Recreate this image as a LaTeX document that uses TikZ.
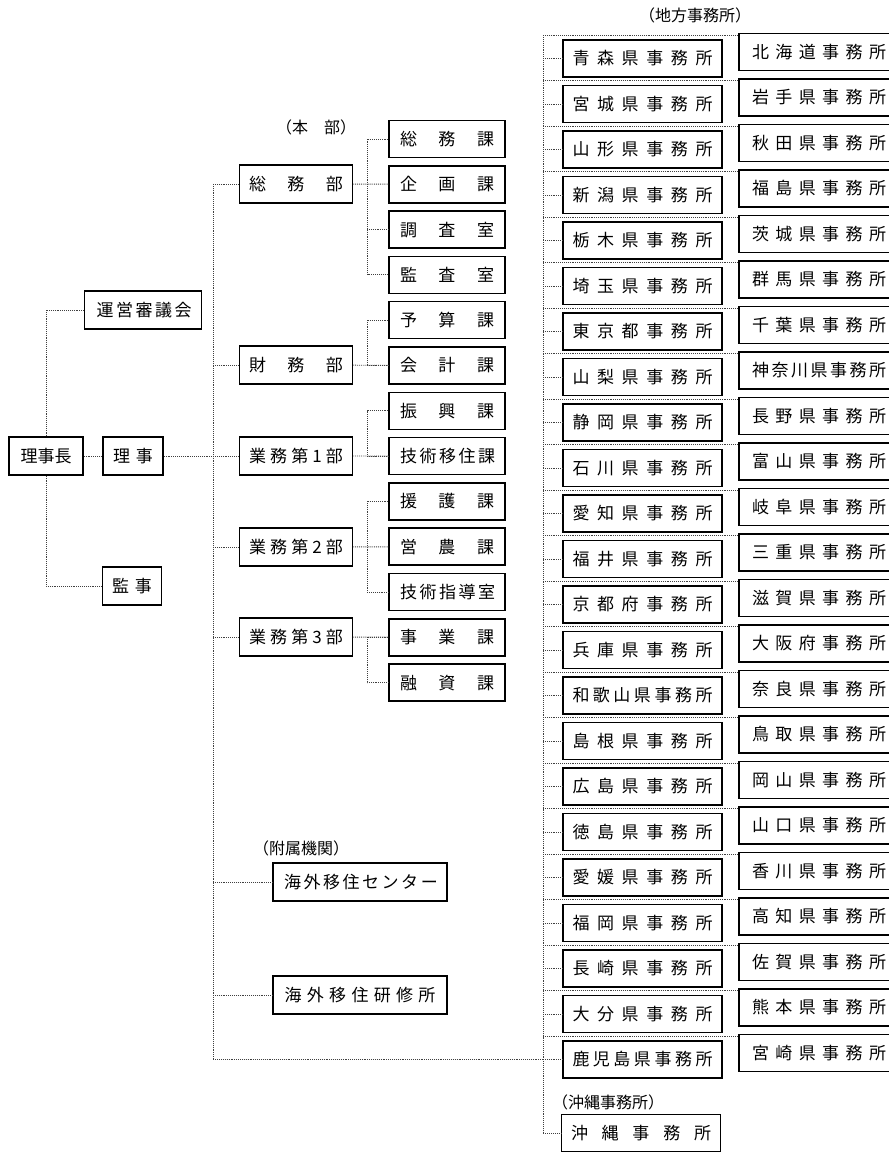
\documentclass[tikz,border=0pt]{standalone}
\usepackage{fontspec}
\setmainfont{Noto Sans CJK JP}
\usepackage{tikz}
\tikzstyle{mybox} = [draw=black, line width=1.5pt, rectangle, inner sep=0pt, minimum height=38pt, font=\fontsize{17}{19}\selectfont]
\tikzstyle{bubox} = [mybox, minimum width=113pt]
\tikzstyle{kabox} = [mybox, minimum width=116pt, minimum height=37pt]
\tikzstyle{kenbox} = [mybox, minimum width=159pt, minimum height=37pt]
\tikzstyle{kenboxr} = [mybox, minimum width=160pt, minimum height=37pt]
\tikzstyle{myline} = [densely dotted, line width=0.9pt, black!75]
\tikzstyle{mylabel} = [inner sep=0pt, font=\fontsize{16}{18}\selectfont]
\newcommand{\spread}[2]{\makebox[#1][s]{#2}}

\begin{document}
\begin{tikzpicture}[x=1pt,y=-1pt]
    \useasboundingbox (0,0) rectangle (888,1155);
    \coordinate (dbus) at (213,0);
    \coordinate (kbus) at (367,0);
    \coordinate (pbus) at (543,0);

    % labels
    \node [mylabel] (honbu) at (316,127) {（本\hspace{1em}部）};
    \node [mylabel] (fuzoku) at (301,848) {（附属機関）};
    \node [mylabel] (chiho) at (695,15) {（地方事務所）};
    \node [mylabel] (okilabel) at (608,1102) {（沖縄事務所）};

    % top
    \node [mybox, minimum width=74pt] (richo) at (46,456) {理事長};
    \node [mybox, minimum width=60pt] (riji) at (133,456) {\spread{40pt}{理 事}};
    \node [mybox, minimum width=59pt] (kanji) at (132,586) {\spread{40pt}{監 事}};
    \node [mybox, minimum width=117pt] (unei) at (143,310) {\spread{93pt}{運 営 審 議 会}};

    % honbu
    \node [bubox] (b1) at (296,184) {\spread{94pt}{総 務 部}};
    \node [bubox] (b2) at (296,365) {\spread{94pt}{財 務 部}};
    \node [bubox] (b3) at (296,456) {\spread{94pt}{業 務 第 1 部}};
    \node [bubox] (b4) at (296,547) {\spread{94pt}{業 務 第 2 部}};
    \node [bubox] (b5) at (296,637) {\spread{94pt}{業 務 第 3 部}};
    \foreach \t [count=\i from 0] in {総 務 課, 企 画 課, 調 査 室, 監 査 室, 予 算 課, 会 計 課, 振 興 課, 技 術 移 住 課, 援 護 課, 営 農 課, 技 術 指 導 室, 事 業 課, 融 資 課}
        \node [kabox] (k\i) at (447,{139+45.3*\i}) {\spread{94pt}{\t}};

    % fuzoku kikan
    \node [mybox, minimum width=174pt] (center) at (360,882) {\spread{152pt}{海 外 移 住 セ ン タ ー}};
    \node [mybox, minimum width=174pt] (kenshu) at (360,995) {\spread{151pt}{海 外 移 住 研 修 所}};

    % chiho jimusho
    \foreach \t [count=\i from 0] in {青 森 県 事 務 所, 宮 城 県 事 務 所, 山 形 県 事 務 所, 新 潟 県 事 務 所, 栃 木 県 事 務 所, 埼 玉 県 事 務 所, 東 京 都 事 務 所, 山 梨 県 事 務 所, 静 岡 県 事 務 所, 石 川 県 事 務 所, 愛 知 県 事 務 所, 福 井 県 事 務 所, 京 都 府 事 務 所, 兵 庫 県 事 務 所, 和 歌 山 県 事 務 所, 島 根 県 事 務 所, 広 島 県 事 務 所, 徳 島 県 事 務 所, 愛 媛 県 事 務 所, 福 岡 県 事 務 所, 長 崎 県 事 務 所, 大 分 県 事 務 所, 鹿 児 島 県 事 務 所}
        \node [kenbox] (l\i) at (642.5,{58.5+45.5*\i}) {\spread{140pt}{\t}};
    \foreach \t [count=\i from 0] in {北 海 道 事 務 所, 岩 手 県 事 務 所, 秋 田 県 事 務 所, 福 島 県 事 務 所, 茨 城 県 事 務 所, 群 馬 県 事 務 所, 千 葉 県 事 務 所, 神 奈 川 県 事 務 所, 長 野 県 事 務 所, 富 山 県 事 務 所, 岐 阜 県 事 務 所, 三 重 県 事 務 所, 滋 賀 県 事 務 所, 大 阪 府 事 務 所, 奈 良 県 事 務 所, 鳥 取 県 事 務 所, 岡 山 県 事 務 所, 山 口 県 事 務 所, 香 川 県 事 務 所, 高 知 県 事 務 所, 佐 賀 県 事 務 所, 熊 本 県 事 務 所, 宮 崎 県 事 務 所}
        \node [kenboxr] (r\i) at (819,{52+45.5*\i}) {\spread{134pt}{\t}\hspace{10pt}};
    \node [kenbox] (oki) at (641,1133) {\spread{140pt}{沖 縄 事 務 所}};

    % lines
    \draw [myline] (richo) -- (riji);
    \draw [myline] (richo.north) |- (unei.west);
    \draw [myline] (richo.south) |- (kanji.west);
    \draw [myline] (riji) -- (b3);
    \draw [myline] (b1.west -| dbus) -- (l22.west -| dbus) -- (l22.west -| pbus);
    \foreach \b in {b1,b2,b4,b5,center,kenshu}
        \draw [myline] (\b.west -| dbus) -- (\b.west);
    \draw [myline] (b1) -- (k1);
    \draw [myline] (b2) -- (k5);
    \draw [myline] (b3) -- (k7);
    \draw [myline] (b4) -- (k9);
    \draw [myline] (b5) -- (k11);
    \foreach \p/\q in {0/3,4/5,6/7,8/10,11/12}
        \draw [myline] (k\p.west) -- (k\p.west -| kbus) -- (k\q.west -| kbus) -- (k\q.west);
    \draw [myline] (k2.west -| kbus) -- (k2.west);
    \foreach \i in {0,...,22}{
        \coordinate (g\i) at ([yshift=4pt]l\i.north);
        \draw [myline] (l\i.west -| pbus) -- (l\i.west);
        \draw [myline] (g\i -| pbus) -- (g\i -| r\i.west);
    }
    \draw [myline] (g0 -| pbus) -- (oki.west -| pbus) -- (oki.west);
\end{tikzpicture}
\end{document}
